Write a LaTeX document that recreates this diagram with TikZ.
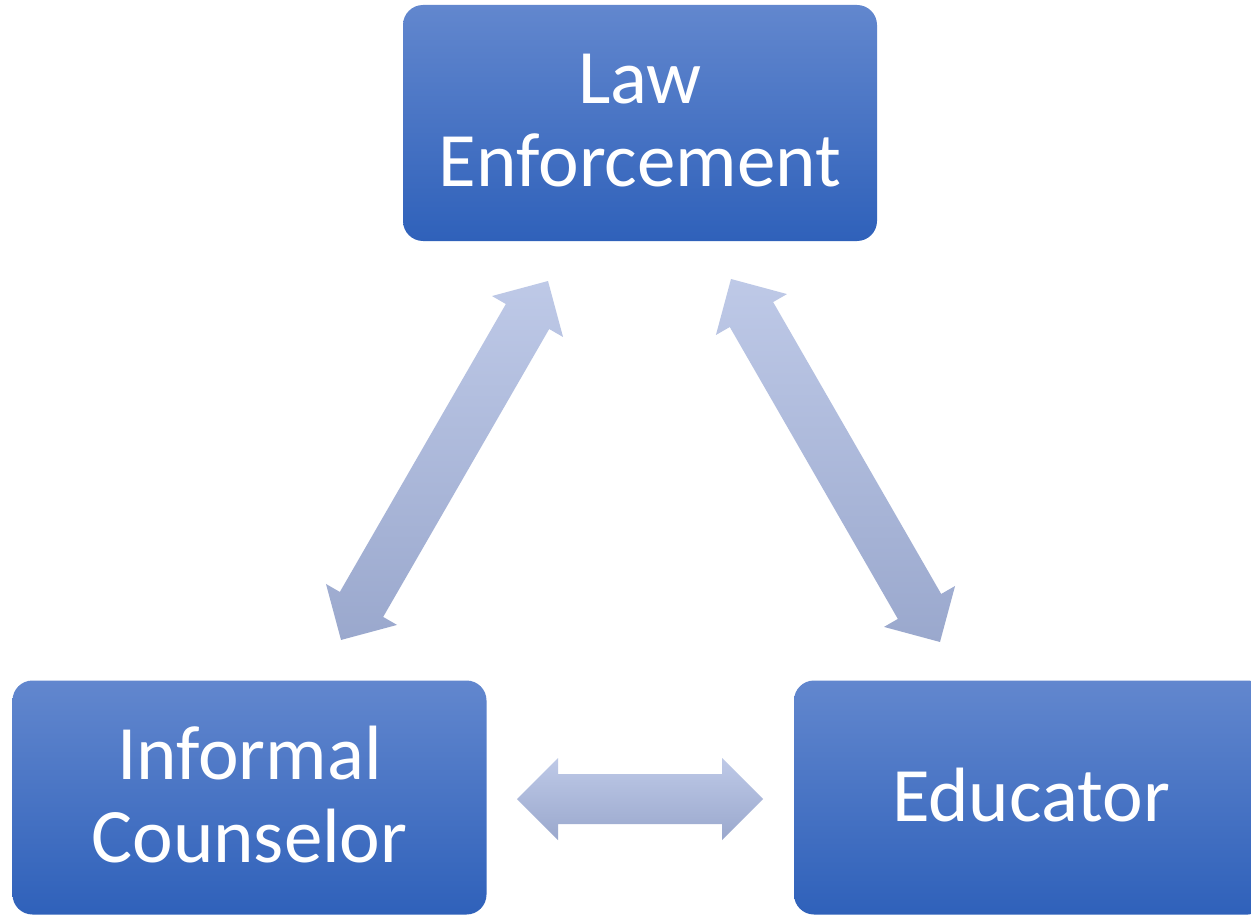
\documentclass[tikz,border=0pt]{standalone}
\usepackage{fontspec}
\setmainfont{Carlito}
\usetikzlibrary{calc}

\definecolor{boxtop}{RGB}{98,135,206}
\definecolor{boxmid}{RGB}{64,113,202}
\definecolor{boxbot}{RGB}{47,97,186}
\definecolor{arrtop}{RGB}{190,201,231}
\definecolor{arrbot}{RGB}{154,168,205}

\tikzset{
  rolebox/.style={rectangle, rounded corners=20pt, minimum width=474pt,
    minimum height=236pt, top color=boxtop, middle color=boxmid,
    bottom color=boxbot, draw=none, text=white, align=center,
    font=\fontsize{77}{83}\selectfont, inner sep=0pt, text depth=6pt},
  linkarrow/.style={top color=arrtop, bottom color=arrbot, draw=none}
}

% double-headed block arrow from tip #1 to tip #2
% head length 41pt, head half-width 41pt, shaft half-width 25pt
\newcommand\dblblock[2]{%
  \path let \p1=($(#2)-(#1)$) in \pgfextra{%
    \pgfmathsetmacro\tmpang{atan2(\y1,\x1)}%
    \pgfmathsetmacro\tmplen{veclen(\x1,\y1)}%
    \pgfmathsetmacro\tmpneck{\tmplen-41}%
    \xdef\blkang{\tmpang}\xdef\blklen{\tmplen}\xdef\blkneck{\tmpneck}};
  \begin{scope}[shift={(#1)},rotate=\blkang]
    \shade[linkarrow] (0pt,0pt) -- (41pt,41pt) -- (41pt,25pt)
      -- (\blkneck pt,25pt) -- (\blkneck pt,41pt) -- (\blklen pt,0pt)
      -- (\blkneck pt,-41pt) -- (\blkneck pt,-25pt) -- (41pt,-25pt)
      -- (41pt,-41pt) -- cycle;
  \end{scope}}

\begin{document}
\begin{tikzpicture}[x=1pt,y=-1pt]
  \path[use as bounding box] (0,0) rectangle (1251,915);
  \clip (0,0) rectangle (1251,915);
  \fill[white] (0,0) rectangle (1251,915);

  % the three roles
  \node[rolebox] (law) at (640,123) {Law\\Enforcement};
  \node[rolebox, minimum height=234pt] (couns) at (249.5,797.5) {Informal\\Counselor};
  \node[rolebox, minimum height=234pt] (edu) at (1031,797.5) {Educator};

  % arrow tips
  \coordinate (lawL) at (548,281);
  \coordinate (counsT) at (341,640);
  \coordinate (lawR) at (731,279);
  \coordinate (eduT) at (940,642);
  \coordinate (counsR) at (517,799);
  \coordinate (eduL) at (763,799);

  \dblblock{lawL}{counsT}
  \dblblock{lawR}{eduT}
  \dblblock{counsR}{eduL}
\end{tikzpicture}
\end{document}
